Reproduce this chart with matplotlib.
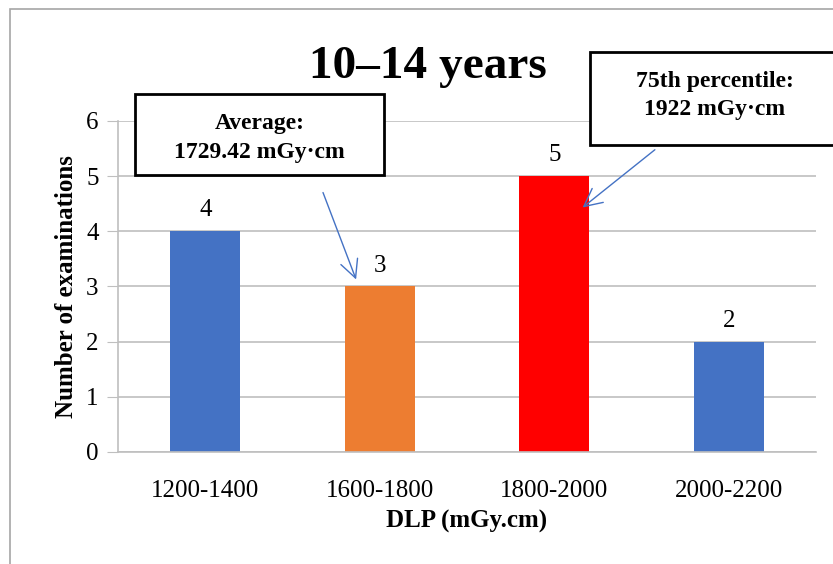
import matplotlib
matplotlib.use("Agg")
import matplotlib.pyplot as plt
from matplotlib.patches import Rectangle

plt.rcParams["font.family"] = ["Liberation Serif", "DejaVu Serif"]

categories = ["1200-1400", "1600-1800", "1800-2000", "2000-2200"]
counts = [4, 3, 5, 2]
colors = ["#4472C4", "#ED7D31", "#FF0000", "#4472C4"]
title = "10\u201314 years"
avg_text = "Average:\n1729.42 mGy\u00b7cm"
p75_text = "75th percentile:\n1922 mGy\u00b7cm"
grid_c = "#BFBFBF"
arrow_c = "#4472C4"


def main():
    fig = plt.figure(figsize=(8.33, 5.64), dpi=100)
    ax = fig.add_axes([0.1417, 0.1986, 0.8379, 0.5869])

    x = range(len(categories))
    bars = ax.bar(x, counts, width=0.4, color=colors, zorder=2)
    for b, v in zip(bars, counts):
        ax.text(b.get_x() + b.get_width() / 2, v + 0.18, str(v),
                ha="center", va="bottom", fontsize=18)

    ax.set_xlim(-0.5, len(categories) - 0.5)
    ax.set_ylim(0, 6)
    ax.set_yticks(range(7))
    ax.set_xticks(list(x))
    ax.set_xticklabels(categories, fontsize=18)
    ax.tick_params(axis="y", labelsize=18, length=8, color=grid_c, pad=6)
    ax.tick_params(axis="x", length=0, pad=20)
    ax.yaxis.grid(True, color=grid_c, linewidth=1.2, zorder=0)
    ax.set_axisbelow(True)
    for s in ["top", "right"]:
        ax.spines[s].set_visible(False)
    ax.spines["left"].set_color(grid_c)
    ax.spines["bottom"].set_color(grid_c)
    ax.spines["left"].set_linewidth(1.2)
    ax.spines["bottom"].set_linewidth(1.2)

    ax.set_xlabel("DLP (mGy.cm)", fontsize=18, fontweight="bold", labelpad=6)
    ax.set_ylabel("Number of examinations", fontsize=18, fontweight="bold", labelpad=6)

    fig.text(0.514, 0.882, title, ha="center", va="center",
             fontsize=34, fontweight="bold")

    # chart frame
    fig.patches.append(Rectangle((0.012, -0.05), 1.2, 1.034, transform=fig.transFigure,
                                 fill=False, edgecolor="#A6A6A6", linewidth=1.2))

    # callout boxes
    fig.patches.append(Rectangle((0.162, 0.6897), 0.299, 0.1436, transform=fig.transFigure,
                                 fill=True, facecolor="white", edgecolor="black",
                                 linewidth=2, zorder=5))
    fig.text(0.3115, 0.7553, avg_text, ha="center", va="center", fontsize=17,
             fontweight="bold", linespacing=1.55, zorder=6)
    fig.patches.append(Rectangle((0.708, 0.743), 0.30, 0.165, transform=fig.transFigure,
                                 fill=True, facecolor="white", edgecolor="black",
                                 linewidth=2, zorder=5))
    fig.text(0.858, 0.83, p75_text, ha="center", va="center", fontsize=17,
             fontweight="bold", linespacing=1.45, zorder=6)

    ax.annotate("", xy=(0.87, 3.08), xytext=(0.669, 4.75),
                arrowprops=dict(arrowstyle="->", color=arrow_c, lw=1,
                                mutation_scale=32), annotation_clip=False)
    ax.annotate("", xy=(2.15, 4.4), xytext=(2.589, 5.51),
                arrowprops=dict(arrowstyle="->", color=arrow_c, lw=1,
                                mutation_scale=32), annotation_clip=False)

    fig.savefig("out.png", dpi=100)


if __name__ == "__main__":
    main()
